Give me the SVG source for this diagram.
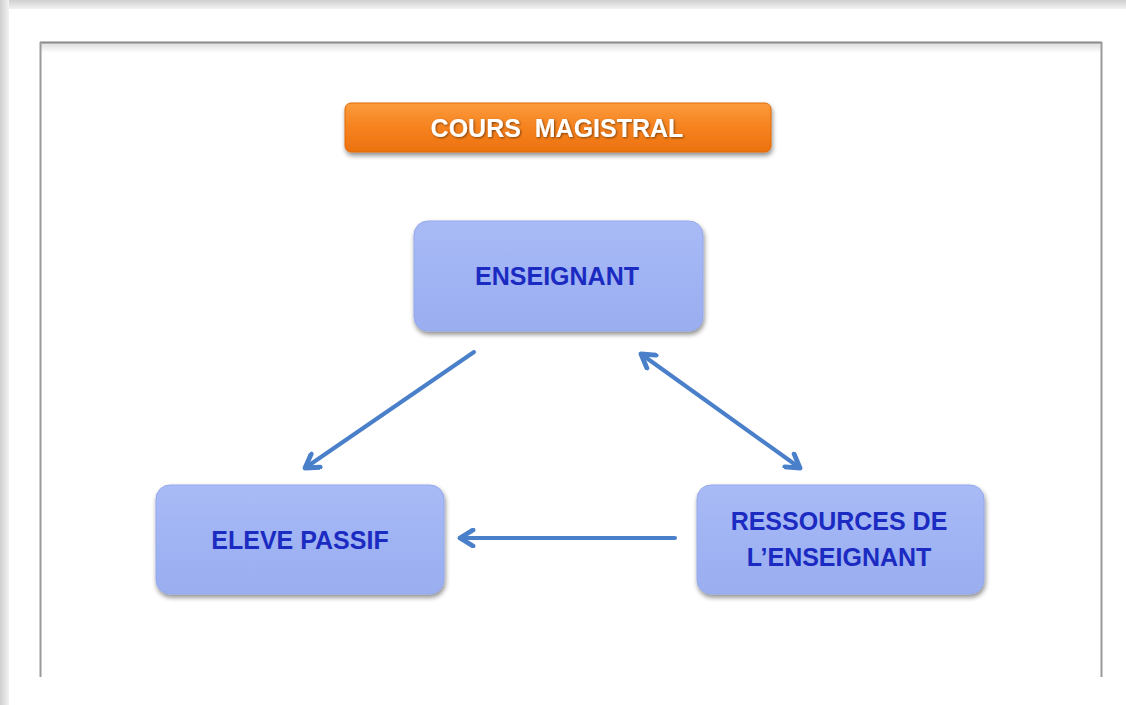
<svg xmlns="http://www.w3.org/2000/svg" width="1126" height="705" viewBox="0 0 1126 705">
  <defs>
    <linearGradient id="gTop" x1="0" y1="0" x2="0" y2="1">
      <stop offset="0" stop-color="#cfcfcf"/>
      <stop offset="1" stop-color="#f2f2f2"/>
    </linearGradient>
    <linearGradient id="gLeft" x1="0" y1="0" x2="1" y2="0">
      <stop offset="0" stop-color="#cfcfcf"/>
      <stop offset="1" stop-color="#f2f2f2"/>
    </linearGradient>
    <linearGradient id="gInner" x1="0" y1="0" x2="0" y2="1">
      <stop offset="0" stop-color="#dcdcdc"/>
      <stop offset="1" stop-color="#ffffff"/>
    </linearGradient>
    <linearGradient id="gOrange" x1="0" y1="0" x2="0" y2="1">
      <stop offset="0" stop-color="#fb9b3c"/>
      <stop offset="0.5" stop-color="#f6821f"/>
      <stop offset="1" stop-color="#ec720e"/>
    </linearGradient>
    <linearGradient id="gBlue" x1="0" y1="0" x2="0" y2="1">
      <stop offset="0" stop-color="#a9bbf6"/>
      <stop offset="0.5" stop-color="#a0b3f3"/>
      <stop offset="1" stop-color="#9aaef0"/>
    </linearGradient>
    <filter id="shadow" x="-10%" y="-10%" width="120%" height="130%">
      <feGaussianBlur in="SourceAlpha" stdDeviation="2.5"/>
      <feOffset dx="1" dy="3" result="b"/>
      <feComponentTransfer><feFuncA type="linear" slope="0.45"/></feComponentTransfer>
      <feMerge><feMergeNode/><feMergeNode in="SourceGraphic"/></feMerge>
    </filter>
    <filter id="glow" x="-5%" y="-20%" width="110%" height="140%">
      <feGaussianBlur in="SourceAlpha" stdDeviation="1"/>
      <feOffset dx="0.5" dy="1" result="b"/>
      <feComponentTransfer><feFuncA type="linear" slope="0.5"/></feComponentTransfer>
      <feMerge><feMergeNode/><feMergeNode in="SourceGraphic"/></feMerge>
    </filter>
    <marker id="arrow" viewBox="0 0 10 10" refX="8" refY="5" markerWidth="5" markerHeight="5" orient="auto-start-reverse" markerUnits="strokeWidth">
      <path d="M1.5,1 L8,5 L1.5,9" fill="none" stroke="#4a7fc9" stroke-width="2.4" stroke-linecap="round" stroke-linejoin="round"/>
    </marker>
  </defs>
  <style>
    .box { fill: url(#gBlue); stroke: #94a8eb; stroke-width: 1; filter: url(#shadow); }
    .lbl { font-family: "Liberation Sans", Arial, sans-serif; font-weight: bold; font-size: 25px; fill: #1b2bc2; text-anchor: middle; }
    .title { font-family: "Liberation Sans", Arial, sans-serif; font-weight: bold; font-size: 25px; fill: #ffffff; text-anchor: middle; white-space: pre; }
    .conn { stroke: #4a7fc9; stroke-width: 4; fill: none; stroke-linecap: round; }
  </style>

  <!-- page background and outer frame -->
  <rect x="0" y="0" width="1126" height="705" fill="#ffffff"/>
  <rect x="0" y="0" width="1126" height="9" fill="url(#gTop)"/>
  <rect x="0" y="0" width="9" height="705" fill="url(#gLeft)"/>

  <!-- inner frame: top rule and side rules -->
  <rect x="41" y="43" width="1061" height="10" fill="url(#gInner)"/>
  <line x1="40" y1="42.5" x2="1102" y2="42.5" stroke="#8a8a8a" stroke-width="2"/>
  <line x1="40.5" y1="42" x2="40.5" y2="677" stroke="#9a9a9a" stroke-width="2"/>
  <line x1="1101.5" y1="42" x2="1101.5" y2="677" stroke="#9a9a9a" stroke-width="2"/>

  <!-- title banner -->
  <g id="title">
    <rect x="345" y="103" width="426" height="49" rx="6" fill="url(#gOrange)" stroke="#e06a0a" stroke-width="1" filter="url(#shadow)"/>
    <text class="title" x="557" y="137" filter="url(#glow)">COURS  MAGISTRAL</text>
  </g>

  <!-- nodes -->
  <g id="enseignant">
    <rect class="box" x="414" y="221" width="289" height="110" rx="14"/>
    <text class="lbl" x="557" y="285">ENSEIGNANT</text>
  </g>
  <g id="eleve">
    <rect class="box" x="156" y="485" width="288" height="109" rx="14"/>
    <text class="lbl" x="300" y="549">ELEVE PASSIF</text>
  </g>
  <g id="ressources">
    <rect class="box" x="697" y="485" width="287" height="109" rx="14"/>
    <text class="lbl" x="839" y="530">RESSOURCES DE</text>
    <text class="lbl" x="839" y="566">L’ENSEIGNANT</text>
  </g>

  <!-- connectors -->
  <g id="connectors">
    <line class="conn" x1="474" y1="352" x2="305" y2="468" marker-end="url(#arrow)"/>
    <line class="conn" x1="641" y1="354" x2="800" y2="468" marker-start="url(#arrow)" marker-end="url(#arrow)"/>
    <line class="conn" x1="675" y1="538" x2="460" y2="538" marker-end="url(#arrow)"/>
  </g>
</svg>
